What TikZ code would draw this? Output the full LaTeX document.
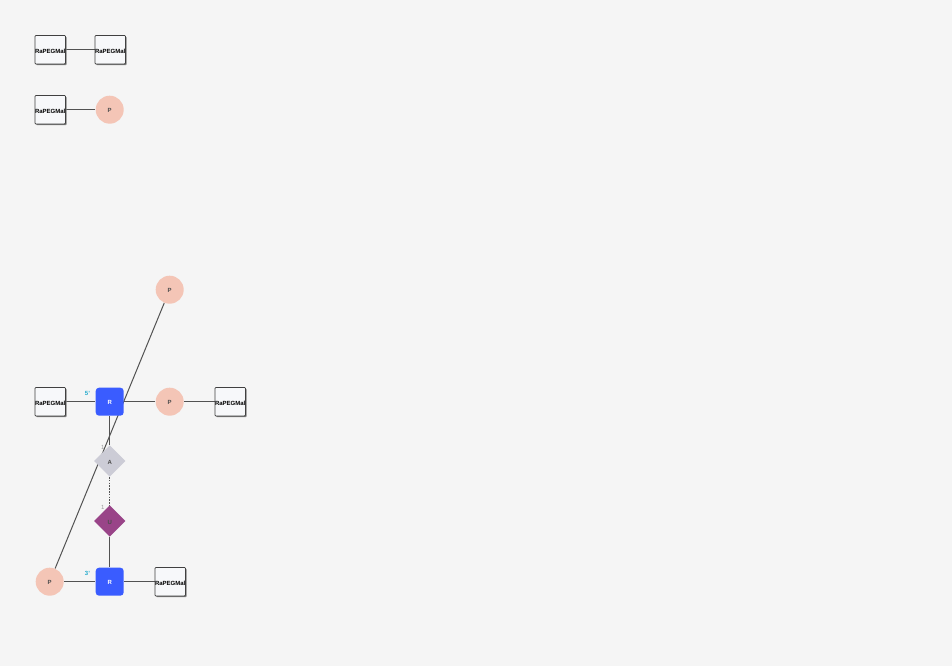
\documentclass[tikz,border=0pt]{standalone}
\usepackage{fontspec}
\setmainfont{Liberation Sans}
\usetikzlibrary{shapes.geometric, shadows, backgrounds}
\definecolor{bgcol}{HTML}{F5F5F5}
\definecolor{boxcol}{HTML}{F7F8FA}
\definecolor{phoscol}{HTML}{F4C5B6}
\definecolor{ribcol}{HTML}{3A5CFF}
\definecolor{adecol}{HTML}{CCCCD6}
\definecolor{uracol}{HTML}{994488}
\definecolor{endcol}{HTML}{22AACC}
\tikzset{
    smalltext/.style={font=\bfseries\fontsize{4.5}{5}\selectfont},
    modbox/.style={smalltext, draw=black!75, fill=boxcol, line width=0.55pt, rounded corners=0.6pt, minimum size=21.3pt, inner sep=0pt, text depth=0pt, text height=5.6pt, text=black, xshift=0.4pt,
        general shadow={shadow xshift=0.9pt, shadow yshift=-0.9pt, fill=black!50}},
    phos/.style={smalltext, circle, fill=phoscol, minimum size=21pt, inner sep=0pt, text=black!70, text depth=0pt, text height=3.9pt},
    ribose/.style={smalltext, rectangle, rounded corners=2.5pt, fill=ribcol, text=white, minimum size=21pt, inner sep=0pt, text depth=0pt, text height=3.9pt},
    adenine/.style={smalltext, diamond, aspect=1, fill=adecol, minimum size=23.5pt, inner sep=0pt, text=black!70, text depth=0pt, text height=4.8pt},
    uracil/.style={smalltext, diamond, aspect=1, fill=uracol, minimum size=23.5pt, inner sep=0pt, text=black!70, text depth=0pt, text height=4.8pt},
    endlabel/.style={font=\bfseries\fontsize{4.5}{5}\selectfont, text=endcol},
    idxlabel/.style={font=\fontsize{4.5}{5}\selectfont, text=black!40},
    bond/.style={draw=black!68, line width=0.75pt}
}
\begin{document}
\begin{tikzpicture}[x=0.75pt, y=-0.75pt]
    \useasboundingbox (0,0) rectangle (952,666);

    \begin{scope}[shift={(-0.3,-0.3)}]
    % Draw the nodes
    \node[modbox] (mal1) at (50,50) {RaPEGMal};
    \node[modbox] (mal2) at (110,50) {RaPEGMal};
    \node[modbox] (mal3) at (50,110) {RaPEGMal};
    \node[phos] (phos1) at (110,110) {P};
    \node[phos] (phos2) at (170,290) {P};
    \node[modbox] (mal4) at (50,402) {RaPEGMal};
    \node[ribose] (rib1) at (110,402) {R};
    \node[phos] (phos3) at (170,402) {P};
    \node[modbox] (mal5) at (230,402) {RaPEGMal};
    \node[adenine] (ade1) at (110,461.3) {A};
    \node[uracil] (ura1) at (110,521.3) {U};
    \node[phos] (phos4) at (50,582) {P};
    \node[ribose] (rib2) at (110,582) {R};
    \node[modbox] (mal6) at (170,582) {RaPEGMal};

    % Label the ends
    \node[endlabel] (five) at (87.8,393.5) {5'};
    \node[endlabel] (three) at (87.8,573.5) {3'};
    \node[idxlabel] (idxa) at (103,448) {1};
    \node[idxlabel] (idxu) at (103,508) {1};

    % Draw the bonds under the nodes
    \begin{pgfonlayer}{background}
    \fill[bgcol] (0,0) rectangle (952.6,666.6);
    \draw[bond] (mal1) -- (mal2);
    \draw[bond] (mal3) -- (phos1);
    \draw[bond] (mal4) -- (rib1);
    \draw[bond] (rib1) -- (phos3);
    \draw[bond] (phos3) -- (mal5);
    \draw[bond] (rib1) -- (ade1);
    \draw[bond, dash pattern=on 1.2pt off 0.9pt, line width=0.9pt] (ade1) -- (ura1);
    \draw[bond] (ura1) -- (rib2);
    \draw[bond] (phos4) -- (rib2);
    \draw[bond] (rib2) -- (mal6);
    \draw[bond] (phos4) -- (phos2);
    \end{pgfonlayer}
    \end{scope}
\end{tikzpicture}
\end{document}
